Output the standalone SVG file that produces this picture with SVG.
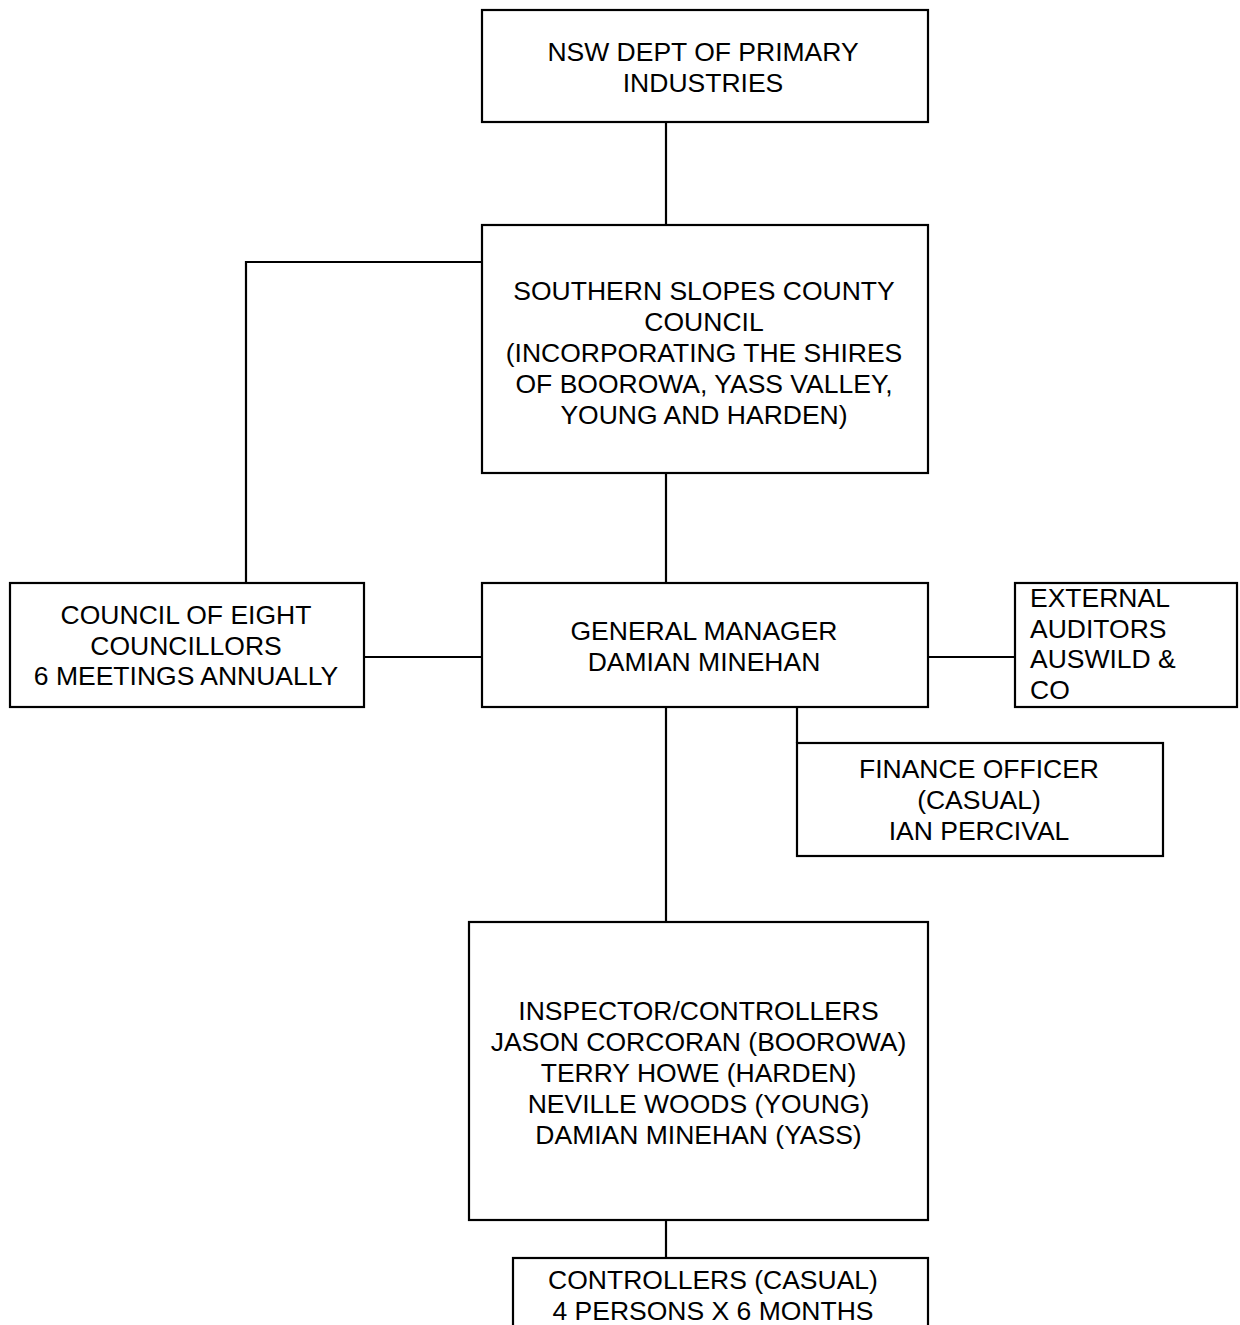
<svg xmlns="http://www.w3.org/2000/svg" width="1240" height="1325" viewBox="0 0 1240 1325">
<style>
.box{fill:#fff;stroke:#000;stroke-width:2.2}
.ln{fill:none;stroke:#000;stroke-width:2.2}
text{font-family:"Liberation Sans",Arial,sans-serif;font-size:26.5px;fill:#000}
.c{text-anchor:middle}
</style>
<rect width="1240" height="1325" fill="#fff"/>
<g id="connectors">
<line class="ln" x1="666" y1="122" x2="666" y2="225"/>
<polyline class="ln" points="482,262 246,262 246,583"/>
<line class="ln" x1="666" y1="473" x2="666" y2="583"/>
<line class="ln" x1="364" y1="657" x2="482" y2="657"/>
<line class="ln" x1="928" y1="657" x2="1015" y2="657"/>
<line class="ln" x1="797" y1="707" x2="797" y2="743"/>
<line class="ln" x1="666" y1="707" x2="666" y2="922"/>
<line class="ln" x1="666" y1="1220" x2="666" y2="1258"/>
</g>
<g id="nsw">
<rect class="box" x="482" y="10" width="446" height="112"/>
<text class="c" x="703" y="60.5">NSW DEPT OF PRIMARY</text>
<text class="c" x="703" y="91.5">INDUSTRIES</text>
</g>
<g id="sscc">
<rect class="box" x="482" y="225" width="446" height="248"/>
<text class="c" x="704" y="300">SOUTHERN SLOPES COUNTY</text>
<text class="c" x="704" y="331">COUNCIL</text>
<text class="c" x="704" y="362">(INCORPORATING THE SHIRES</text>
<text class="c" x="704" y="393">OF BOOROWA, YASS VALLEY,</text>
<text class="c" x="704" y="424">YOUNG AND HARDEN)</text>
</g>
<g id="council">
<rect class="box" x="10" y="583" width="354" height="124"/>
<text class="c" x="186" y="624">COUNCIL OF EIGHT</text>
<text class="c" x="186" y="654.5">COUNCILLORS</text>
<text class="c" x="186" y="685">6 MEETINGS ANNUALLY</text>
</g>
<g id="gm">
<rect class="box" x="482" y="583" width="446" height="124"/>
<text class="c" x="704" y="639.5">GENERAL MANAGER</text>
<text class="c" x="704" y="670.5">DAMIAN MINEHAN</text>
</g>
<g id="auditors">
<rect class="box" x="1015" y="583" width="222" height="124"/>
<text x="1030" y="607">EXTERNAL</text>
<text x="1030" y="637.5">AUDITORS</text>
<text x="1030" y="668">AUSWILD &amp;</text>
<text x="1030" y="698.5">CO</text>
</g>
<g id="finance">
<rect class="box" x="797" y="743" width="366" height="113"/>
<text class="c" x="979" y="778">FINANCE OFFICER</text>
<text class="c" x="979" y="809">(CASUAL)</text>
<text class="c" x="979" y="840">IAN PERCIVAL</text>
</g>
<g id="inspectors">
<rect class="box" x="469" y="922" width="459" height="298"/>
<text class="c" x="698.5" y="1020">INSPECTOR/CONTROLLERS</text>
<text class="c" x="698.5" y="1051">JASON CORCORAN (BOOROWA)</text>
<text class="c" x="698.5" y="1082">TERRY HOWE (HARDEN)</text>
<text class="c" x="698.5" y="1113">NEVILLE WOODS (YOUNG)</text>
<text class="c" x="698.5" y="1144">DAMIAN MINEHAN (YASS)</text>
</g>
<g id="casual">
<rect class="box" x="513" y="1258" width="415" height="100"/>
<text class="c" x="713" y="1289">CONTROLLERS (CASUAL)</text>
<text class="c" x="713" y="1320">4 PERSONS X 6 MONTHS</text>
</g>
</svg>
